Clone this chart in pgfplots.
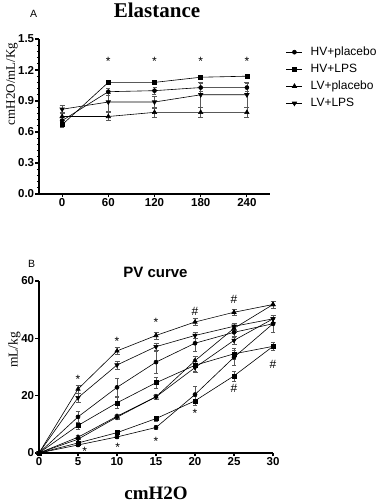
\documentclass[border=0pt]{standalone}
\usepackage{pgfplots}
\pgfplotsset{compat=1.18}
\usepackage{pgfplotstable}
\usepackage{fontspec}
\setmainfont{Liberation Sans}
\newfontfamily\seriffont{Liberation Serif}

\pgfplotsset{
  gp/.style={
    scale only axis,
    axis lines*=left,
    axis line style={line width=1.3pt},
    tick align=outside,
    major tick length=3.5pt,
    minor tick length=2pt,
    every tick/.style={line width=1.1pt, black},
    every minor tick/.style={line width=0.8pt, black},
    tick label style={font=\fontsize{11.5}{12}\selectfont\bfseries, inner sep=1.2pt},
    /pgf/number format/assume math mode=true,
    clip=false,
    cycle list={{black}},
  },
  s/.style={black, solid, line width=0.6pt, mark size=2pt, mark options={solid, fill=black},
    error bars/y dir=both, error bars/y explicit,
    error bars/error bar style={line width=0.6pt, black!65}},
  su/.style={s, mark=triangle*, mark size=2.5pt},
  sd/.style={s, mark=triangle*, mark size=2.5pt, mark options={solid, fill=black, rotate=180}},
}

% Panel A
\pgfplotstableread{
x y e
0 0.71 0.03
60 0.99 0.03
120 1.00 0.03
180 1.03 0.04
240 1.03 0.04
}\Ahvpla
\pgfplotstableread{
x y e
0 0.67 0.02
60 1.08 0.02
120 1.08 0.02
180 1.13 0.01
240 1.14 0.01
}\Ahvlps
\pgfplotstableread{
x y e
0 0.75 0.04
60 0.75 0.04
120 0.79 0.05
180 0.79 0.05
240 0.79 0.05
}\Alvpla
\pgfplotstableread{
x y e
0 0.82 0.04
60 0.89 0.09
120 0.89 0.06
180 0.96 0.12
240 0.96 0.12
}\Alvlps

% Panel B
\pgfplotstableread{
x y e
0 0 0.3
5 22.3 1.3
10 35.6 1.3
15 41.0 1.2
20 45.7 1.2
25 49.1 1.2
30 51.8 1.3
}\BlvplaD
\pgfplotstableread{
x y e
0 0 0.3
5 5.5 0.6
10 12.8 0.8
15 19.6 1.0
20 32.2 1.5
25 43.5 1.2
30 51.8 1.3
}\BlvplaI
\pgfplotstableread{
x y e
0 0 0.3
5 19.3 1.5
10 30.7 1.4
15 37.1 1.2
20 41.0 1.0
25 44.2 1.2
30 46.8 1.2
}\BlvlpsD
\pgfplotstableread{
x y e
0 0 0.3
5 4.8 0.6
10 12.5 0.8
15 19.6 1.0
20 29.8 1.5
25 39.3 1.3
30 46.8 1.2
}\BlvlpsI
\pgfplotstableread{
x y e
0 0 0.3
5 12.6 2.0
10 22.9 3.2
15 31.7 3.8
20 38.3 2.8
25 42.1 1.8
30 45.1 2.8
}\BhvplaD
\pgfplotstableread{
x y e
0 0 0.3
5 2.8 0.5
10 5.6 0.6
15 8.9 0.7
20 20.4 3.0
25 33.4 2.6
30 45.1 2.8
}\BhvplaI
\pgfplotstableread{
x y e
0 0 0.3
5 9.6 1.2
10 17.5 2.0
15 24.5 1.8
20 30.6 2.0
25 34.6 2.0
30 37.2 1.4
}\BhvlpsD
\pgfplotstableread{
x y e
0 0 0.3
5 3.5 0.5
10 7.1 0.8
15 12.0 1.0
20 18.2 1.5
25 26.9 1.8
30 37.2 1.4
}\BhvlpsI

\begin{document}
\begin{tikzpicture}
\path[use as bounding box] (0,0) rectangle (383pt,503pt);

% ---------- Panel A ----------
\begin{axis}[gp,
  at={(39pt,309pt)}, anchor=south west,
  width=231pt, height=155pt,
  xmin=-30, xmax=270, ymin=0, ymax=1.5,
  xtick={0,60,120,180,240},
  ytick={0,0.3,0.6,0.9,1.2,1.5},
  minor y tick num=4,
  yticklabel style={/pgf/number format/.cd, fixed, fixed zerofill, precision=1},
  legend style={draw=none, fill=none, at={(1.069,0.962)}, anchor=north west,
    font=\fontsize{12}{14}\selectfont, row sep=3pt, inner sep=0pt},
  legend cell align=left,
  legend image code/.code={%
    \draw[mark repeat=2,mark phase=2,#1] plot coordinates {(0pt,0pt) (8pt,0pt) (16pt,0pt)};
    \path (22pt,0pt);},
]
\addplot[s, mark=*] table[x=x,y=y,y error=e] {\Ahvpla};
\addlegendentry{HV+placebo}
\addplot[s, mark=square*] table[x=x,y=y,y error=e] {\Ahvlps};
\addlegendentry{HV+LPS}
\addplot[su] table[x=x,y=y,y error=e] {\Alvpla};
\addlegendentry{LV+placebo}
\addplot[sd] table[x=x,y=y,y error=e] {\Alvlps};
\addlegendentry{LV+LPS}
\node[font=\fontsize{12}{12}\selectfont] at (axis cs:60,1.28) {*};
\node[font=\fontsize{12}{12}\selectfont] at (axis cs:120,1.28) {*};
\node[font=\fontsize{12}{12}\selectfont] at (axis cs:180,1.28) {*};
\node[font=\fontsize{12}{12}\selectfont] at (axis cs:240,1.28) {*};
\node[rotate=90, font=\seriffont\fontsize{13}{14}\selectfont] at (rel axis cs:-0.117,0.71) {cmH2O/mL/Kg};
\end{axis}

% ---------- Panel B ----------
\begin{axis}[gp,
  at={(39pt,50pt)}, anchor=south west,
  width=234pt, height=172pt,
  xmin=0, xmax=30, ymin=0, ymax=60,
  xtick={0,5,10,15,20,25,30},
  ytick={0,20,40,60},
]
\addplot[su] table[x=x,y=y,y error=e] {\BlvplaD};
\addplot[su] table[x=x,y=y,y error=e] {\BlvplaI};
\addplot[sd] table[x=x,y=y,y error=e] {\BlvlpsD};
\addplot[sd] table[x=x,y=y,y error=e] {\BlvlpsI};
\addplot[s, mark=*] table[x=x,y=y,y error=e] {\BhvplaD};
\addplot[s, mark=*] table[x=x,y=y,y error=e] {\BhvplaI};
\addplot[s, mark=square*] table[x=x,y=y,y error=e] {\BhvlpsD};
\addplot[s, mark=square*] table[x=x,y=y,y error=e] {\BhvlpsI};
\node[font=\fontsize{12}{12}\selectfont] at (axis cs:5,25.8) {*};
\node[font=\fontsize{12}{12}\selectfont] at (axis cs:10,39.0) {*};
\node[font=\fontsize{12}{12}\selectfont] at (axis cs:15,45.4) {*};
\node[font=\fontsize{12}{12}\selectfont] at (axis cs:5.85,0.6) {*};
\node[font=\fontsize{12}{12}\selectfont] at (axis cs:10.1,1.8) {*};
\node[font=\fontsize{12}{12}\selectfont] at (axis cs:15,4.1) {*};
\node[font=\fontsize{12}{12}\selectfont] at (axis cs:20,13.9) {*};
\node[font=\fontsize{12}{12}\selectfont] at (axis cs:20,49.5) {\#};
\node[font=\fontsize{12}{12}\selectfont] at (axis cs:25,53.5) {\#};
\node[font=\fontsize{12}{12}\selectfont] at (axis cs:25,22.7) {\#};
\node[font=\fontsize{12}{12}\selectfont] at (axis cs:30,31) {\#};
\node[rotate=90, font=\seriffont\fontsize{13.5}{14}\selectfont] at (rel axis cs:-0.105,0.6) {mL/kg};
\end{axis}

% ---------- Titles ----------
\node[anchor=base, font=\seriffont\bfseries\fontsize{21}{22}\selectfont] at (157pt,485pt) {Elastance};
\node[anchor=base west, font=\fontsize{10.5}{11}\selectfont, inner sep=0pt] at (30pt,485pt) {A};
\node[anchor=base west, font=\fontsize{10.5}{11}\selectfont, inner sep=0pt] at (28pt,235pt) {B};
\node[anchor=base, font=\bfseries\fontsize{15}{16}\selectfont] at (155.5pt,225pt) {PV curve};
\node[anchor=base, font=\seriffont\bfseries\fontsize{19}{20}\selectfont] at (156pt,3pt) {cmH2O};
\end{tikzpicture}
\end{document}
